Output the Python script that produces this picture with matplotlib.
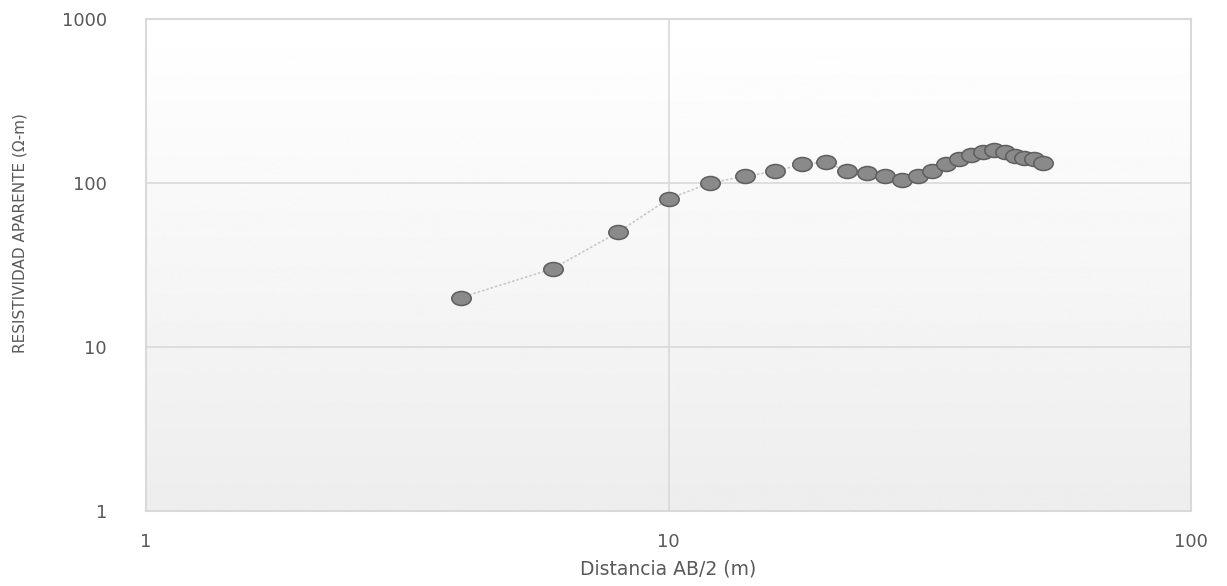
import numpy as np
import matplotlib.pyplot as plt
from matplotlib.path import Path

# sondeo electrico vertical
ab2 = [4, 6, 8, 10, 12, 14, 16, 18, 20, 22, 24, 26, 28, 30, 32, 34, 36, 38, 40, 42, 44, 46, 48, 50, 52]
rho = [20, 30, 50, 80, 100, 110, 118, 130, 134, 118, 115, 110, 104, 110, 118, 130, 140, 148, 155, 160, 155, 147, 143, 140, 133]

x_ticks = [1, 10, 100]
y_ticks = [1, 10, 100, 1000]

W, H = 1227, 586
fig = plt.figure(figsize=(W / 100, H / 100), dpi=100)
ax = fig.add_axes([146 / W, 1 - 511 / H, (1191 - 146) / W, (511 - 19) / H])

# fondo degradado (blanco arriba, gris claro abajo)
grad = np.linspace(1.0, 0.93, 256).reshape(-1, 1)
ax.imshow(grad, cmap='gray', vmin=0, vmax=1, aspect='auto',
          extent=[0, 1, 0, 1], transform=ax.transAxes, zorder=0)

ax.set_xscale('log')
ax.set_yscale('log')
ax.set_xlim(1, 100)
ax.set_ylim(1, 1000)

ax.grid(True, which='major', color='#d9d9d9', lw=1.2, zorder=1)
ax.minorticks_off()
ax.set_xticks(x_ticks)
ax.set_yticks(y_ticks)
ax.set_xticklabels([str(v) for v in x_ticks])
ax.set_yticklabels([str(v) for v in y_ticks])
ax.tick_params(length=0, labelsize=13, labelcolor='#595959')
ax.tick_params(axis='x', pad=16)
ax.tick_params(axis='y', pad=28)

for s in ax.spines.values():
    s.set_color('#d9d9d9')
    s.set_linewidth(1.5)

# marcador eliptico
circ = Path.unit_circle()
ell = Path(circ.vertices * np.array([1.0, 0.72]), circ.codes)

ax.plot(ab2, rho, ls=(0, (1.5, 1.2)), color='#c8c8c8', lw=1.2, zorder=2)
ax.plot(ab2, rho, ls='none', marker=ell, ms=14, mfc='#8a8a8a', mec='#5e5e5e', mew=1.1, zorder=3)

ax.set_xlabel('Distancia AB/2 (m)', fontsize=13.5, color='#595959', labelpad=6)
fig.text(20 / W, 1 - 233 / H, 'RESISTIVIDAD APARENTE (Ω-m)', rotation=90,
         ha='center', va='center', fontsize=11, color='#595959')

fig.savefig('out.png', dpi=100)
